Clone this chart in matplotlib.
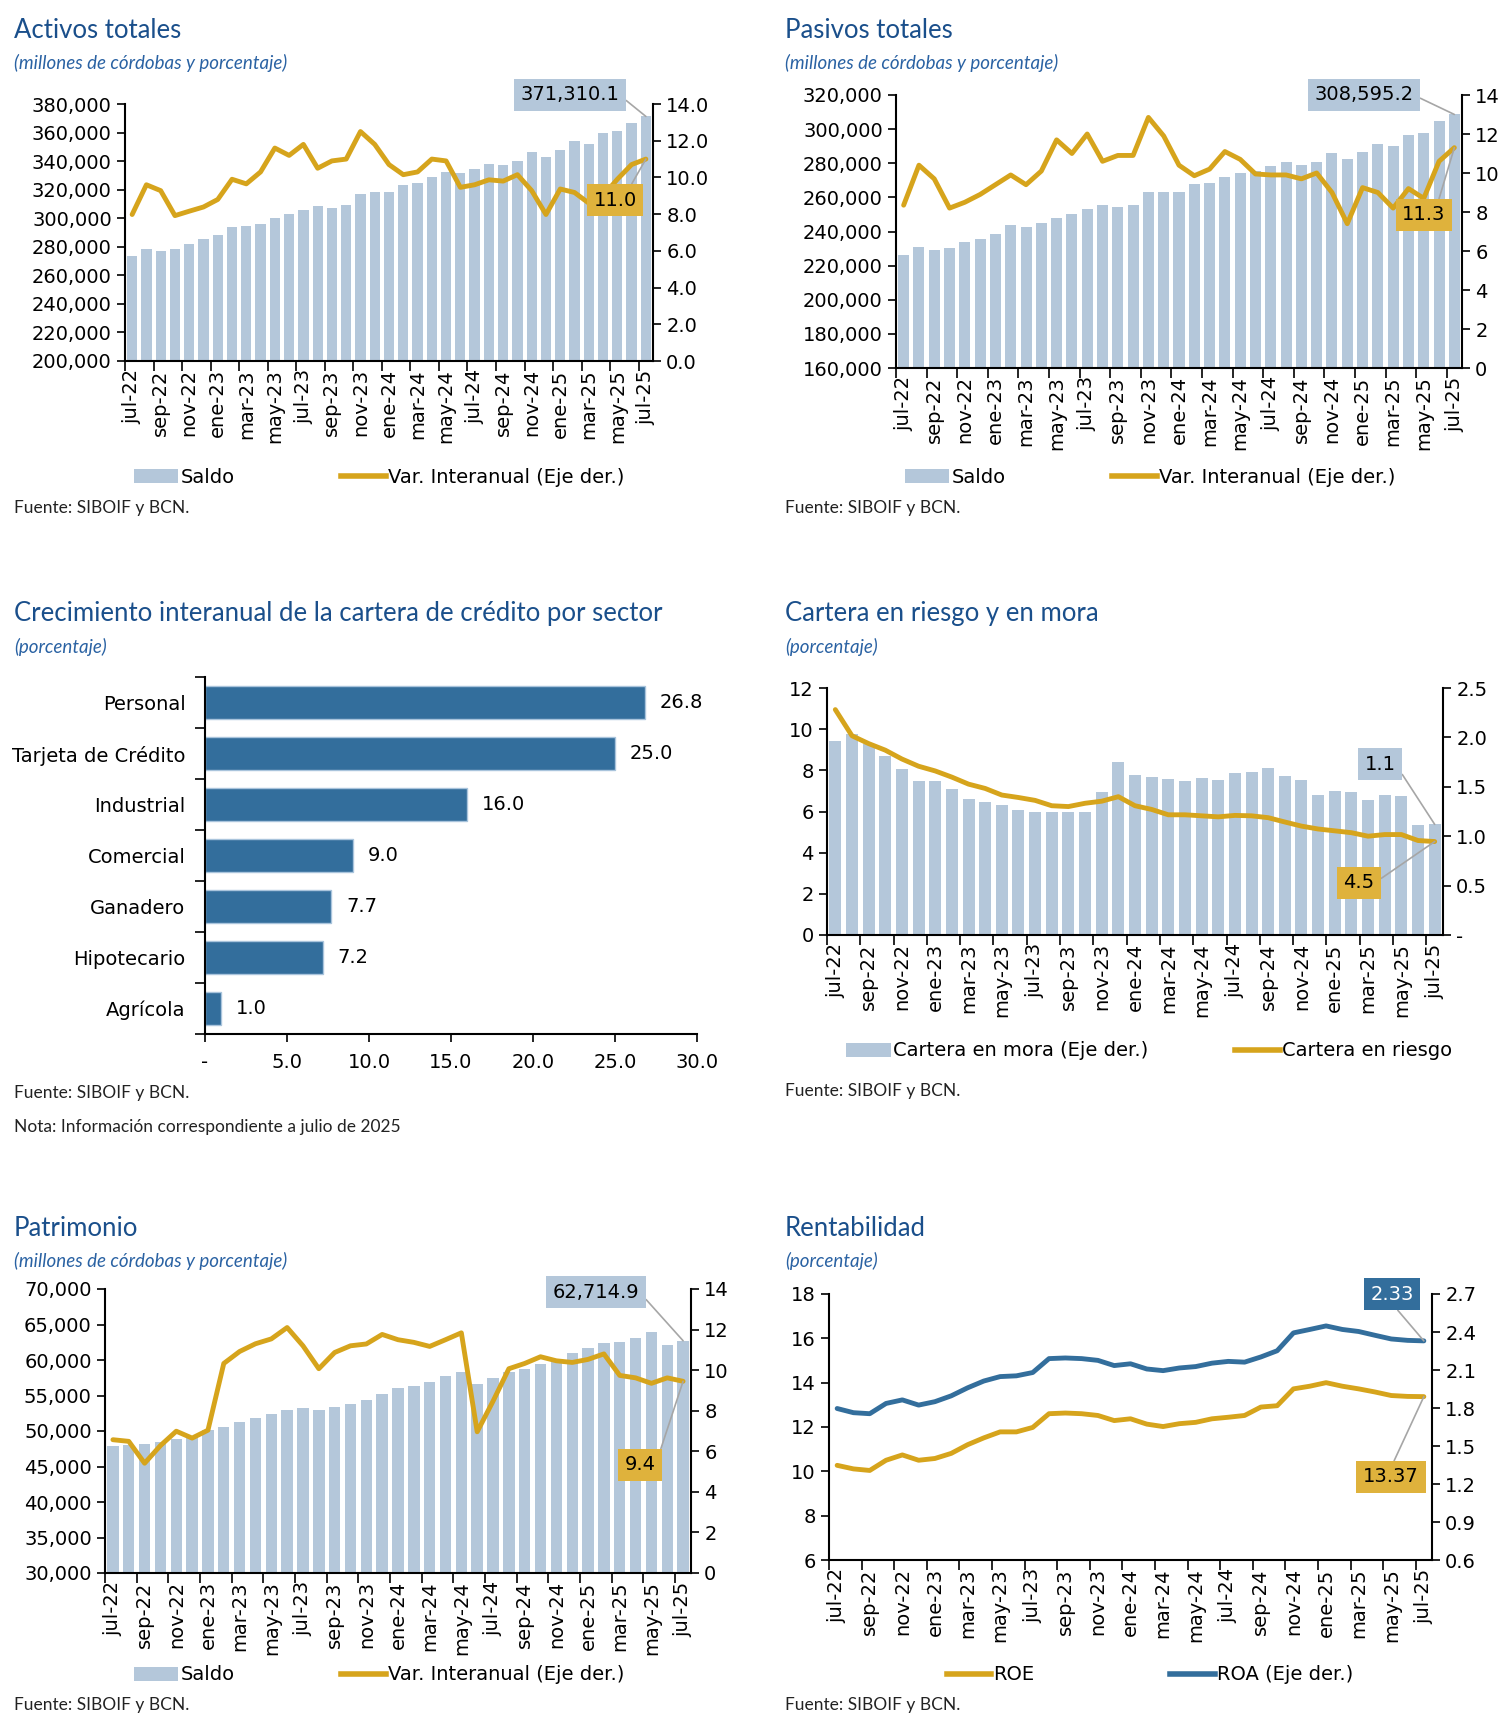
import numpy as np
import matplotlib
matplotlib.use("Agg")
import matplotlib.pyplot as plt
from matplotlib.patches import Rectangle
from matplotlib.lines import Line2D
from matplotlib.ticker import FuncFormatter

W, H = 1511, 1727

# Etiquetas de meses (jul-22 a jul-25)
meses = ["ene", "feb", "mar", "abr", "may", "jun", "jul", "ago", "sep", "oct", "nov", "dic"]
periodos = [f"{meses[(6 + i) % 12]}-{22 + (6 + i) // 12}" for i in range(37)]

# Activos totales
activos_saldo = [273400, 278700, 277200, 278400, 281800, 285100, 288200, 293700, 294400, 296300,
                 299900, 303200, 305600, 308500, 307300, 309200, 317000, 318200, 318200, 323500,
                 324700, 329200, 332300, 331600, 334700, 338000, 337300, 339900, 346100, 343000,
                 348000, 353800, 351800, 359500, 361300, 366400, 371310.1]
activos_var = [7.98, 9.6, 9.28, 7.92, 8.16, 8.39, 8.8, 9.9, 9.65, 10.3,
               11.6, 11.2, 11.8, 10.5, 10.9, 11.0, 12.5, 11.8, 10.7, 10.15,
               10.3, 11.0, 10.9, 9.46, 9.6, 9.87, 9.8, 10.15, 9.28, 7.98,
               9.37, 9.18, 8.6, 9.0, 9.9, 10.7, 11.0]

# Pasivos totales
pasivos_saldo = [226400, 230800, 229000, 230200, 233800, 235500, 238500, 243700, 242900, 245100,
                 247700, 250500, 253000, 255800, 254200, 255800, 263000, 263000, 263000, 268000,
                 268500, 272100, 274100, 275700, 278100, 280500, 278900, 280900, 286200, 282700,
                 286600, 291400, 290000, 296800, 298000, 304700, 308595.2]
pasivos_var = [8.35, 10.4, 9.7, 8.2, 8.5, 8.9, 9.4, 9.9, 9.4, 10.1,
               11.7, 11.0, 12.0, 10.6, 10.9, 10.9, 12.85, 11.9, 10.4, 9.86,
               10.2, 11.1, 10.7, 9.95, 9.9, 9.9, 9.7, 10.0, 9.0, 7.4,
               9.25, 9.0, 8.2, 9.2, 8.7, 10.6, 11.3]

# Crecimiento interanual de la cartera por sector
sectores = ["Personal", "Tarjeta de Crédito", "Industrial", "Comercial", "Ganadero", "Hipotecario", "Agrícola"]
crec_sector = [26.8, 25.0, 16.0, 9.0, 7.7, 7.2, 1.0]

# Cartera en riesgo y en mora
cartera_mora = [1.96, 2.03, 1.93, 1.81, 1.68, 1.56, 1.56, 1.48, 1.38, 1.35,
                1.32, 1.27, 1.24, 1.25, 1.25, 1.25, 1.45, 1.75, 1.62, 1.60,
                1.58, 1.56, 1.59, 1.57, 1.64, 1.65, 1.69, 1.61, 1.57, 1.42,
                1.46, 1.45, 1.37, 1.42, 1.41, 1.11, 1.12]
cartera_riesgo = [10.95, 9.68, 9.3, 8.98, 8.55, 8.2, 7.97, 7.67, 7.33, 7.12,
                  6.8, 6.68, 6.54, 6.28, 6.24, 6.4, 6.5, 6.72, 6.28, 6.1,
                  5.84, 5.84, 5.79, 5.74, 5.81, 5.79, 5.7, 5.49, 5.29, 5.15,
                  5.06, 4.97, 4.8, 4.88, 4.88, 4.59, 4.54]

# Patrimonio
patrim_saldo = [47850, 48050, 48140, 48430, 48910, 49150, 50210, 50600, 51320, 51800,
                52380, 52950, 53200, 52950, 53340, 53870, 54300, 55270, 55990, 56370,
                56950, 57720, 58350, 56610, 57480, 58300, 58780, 59500, 60080, 61040,
                61760, 62390, 62530, 63160, 63930, 62050, 62714.9]
patrim_var = [6.57, 6.49, 5.41, 6.28, 6.99, 6.65, 7.04, 10.33, 10.92, 11.3,
              11.54, 12.1, 11.2, 10.07, 10.87, 11.2, 11.29, 11.76, 11.5, 11.37,
              11.17, 11.5, 11.84, 6.96, 8.47, 10.07, 10.33, 10.66, 10.46, 10.38,
              10.53, 10.8, 9.74, 9.62, 9.35, 9.62, 9.45]

# Rentabilidad
roe = [10.27, 10.11, 10.04, 10.5, 10.74, 10.5, 10.58, 10.81, 11.2, 11.51,
       11.78, 11.78, 11.98, 12.6, 12.63, 12.6, 12.52, 12.29, 12.37, 12.13,
       12.02, 12.15, 12.21, 12.37, 12.44, 12.52, 12.9, 12.96, 13.72, 13.84,
       14.0, 13.84, 13.72, 13.58, 13.42, 13.38, 13.37]
roa = [1.796, 1.763, 1.755, 1.836, 1.864, 1.823, 1.85, 1.896, 1.959, 2.013,
       2.048, 2.054, 2.08, 2.19, 2.195, 2.19, 2.176, 2.135, 2.149, 2.108,
       2.095, 2.116, 2.127, 2.154, 2.168, 2.162, 2.203, 2.252, 2.393, 2.42,
       2.448, 2.42, 2.404, 2.374, 2.345, 2.334, 2.33]

# Colores
C_BAR = "#b4c7da"
C_GOLD = "#d6a41c"
C_GOLDBOX = "#dfb23c"
C_BLUE = "#336e9c"
C_TITLE = "#1a4f8b"
C_SUB = "#2a62a3"

TICK_FS = 14
TITLE_FONT = ["Lato", "DejaVu Sans"]
plt.rcParams["font.family"] = ["DejaVu Sans"]

fig = plt.figure(figsize=(W / 100, H / 100), dpi=100)
fig.patch.set_facecolor("white")


def rect(x0, y0, x1, y1):
    return [x0 / W, 1 - y1 / H, (x1 - x0) / W, (y1 - y0) / H]


def ftext(x, y, s, **kw):
    fig.text(x / W, 1 - y / H, s, **kw)


def headers(x, y_title, y_sub, title, sub):
    ftext(x, y_title, title, fontsize=18.5, color=C_TITLE, family=TITLE_FONT, va="center")
    ftext(x, y_sub, sub, fontsize=13.5, color=C_SUB, family=TITLE_FONT, style="italic",
          weight="normal", va="center")


def fuente(x, y, s="Fuente: SIBOIF y BCN."):
    ftext(x, y, s, fontsize=12.5, color="#222222", family=TITLE_FONT, va="center")


def style_axes(ax, right=None):
    for side in ["top", "right"]:
        ax.spines[side].set_visible(False)
    ax.spines["left"].set_linewidth(1.5)
    ax.spines["bottom"].set_linewidth(1.5)
    ax.tick_params(axis="y", labelsize=TICK_FS, length=6, width=1.2, direction="out")
    if right is not None:
        for side in ["top", "left", "bottom"]:
            right.spines[side].set_visible(False)
        right.spines["right"].set_linewidth(1.5)
        right.tick_params(axis="y", labelsize=TICK_FS, length=6, width=1.2, direction="out")


def time_axis(ax):
    n = len(periodos)
    ax.set_xlim(-0.5, n - 0.5)
    ax.set_xticks(np.arange(0, n, 2))
    ax.set_xticklabels(periodos[::2], rotation=90, fontsize=TICK_FS)
    ax.set_xticks(np.arange(-0.5, n, 2), minor=True)
    ax.tick_params(axis="x", which="major", length=0, pad=6)
    ax.tick_params(axis="x", which="minor", length=7, width=1.2, direction="out")


def box_label(ax, s, xy, cx, cy, fc, tc="black", relpos=(1, 0.5)):
    ax.annotate(s, xy=xy, xycoords="data", xytext=(cx, H - cy), textcoords="figure pixels",
                ha="center", va="center", fontsize=TICK_FS, color=tc,
                bbox=dict(boxstyle="square,pad=0.35", fc=fc, ec="none"),
                arrowprops=dict(arrowstyle="-", color="#a6a6a6", lw=1.2, shrinkA=0, shrinkB=0,
                                relpos=relpos),
                annotation_clip=False, zorder=10)


def legend(cx, cy, handles, labels, spacing=5.5):
    fig.legend(handles, labels, loc="center", bbox_to_anchor=(cx / W, 1 - cy / H), ncol=len(handles),
               frameon=False, fontsize=TICK_FS, columnspacing=spacing, handlelength=2.3,
               handletextpad=0.1, borderaxespad=0)


thousands = FuncFormatter(lambda v, p: f"{v:,.0f}")
one_dec = FuncFormatter(lambda v, p: f"{v:.1f}")
one_dec_dash = FuncFormatter(lambda v, p: "-" if abs(v) < 1e-9 else f"{v:.1f}")
integer = FuncFormatter(lambda v, p: f"{v:.0f}")

x = np.arange(len(periodos))
bar_handle = Rectangle((0, 0), 1, 1, fc=C_BAR, ec="none")
gold_handle = Line2D([], [], color=C_GOLD, lw=4)
blue_handle = Line2D([], [], color=C_BLUE, lw=4)


def saldo_panel(pos, saldo, var, ylim, ystep, rlim, rstep, rfmt, box1, box2):
    ax = fig.add_axes(rect(*pos))
    ax2 = ax.twinx()
    ax.bar(x, saldo, width=0.72, color=C_BAR, zorder=1)
    ax.set_ylim(*ylim)
    ax.set_yticks(np.arange(ylim[0], ylim[1] + 1, ystep))
    ax.yaxis.set_major_formatter(thousands)
    ax2.plot(x, var, color=C_GOLD, lw=3.5, solid_joinstyle="round", solid_capstyle="round")
    ax2.set_ylim(*rlim)
    ax2.set_yticks(np.arange(rlim[0], rlim[1] + 0.01, rstep))
    ax2.yaxis.set_major_formatter(rfmt)
    style_axes(ax, ax2)
    time_axis(ax)
    box_label(ax, f"{saldo[-1]:,.1f}", (x[-1], saldo[-1]), box1[0], box1[1], C_BAR)
    box_label(ax2, f"{var[-1]:.1f}", (x[-1], var[-1]), box2[0], box2[1], C_GOLDBOX, relpos=box2[2])
    return ax, ax2


# Panel 1: Activos totales
headers(14, 30, 63, "Activos totales", "(millones de córdobas y porcentaje)")
saldo_panel((125, 104, 653, 361), activos_saldo, activos_var, (200000, 380000), 20000,
            (0, 14), 2, one_dec, (570, 95), (615, 200, (0.8, 1)))
legend(379, 477, [bar_handle, gold_handle], ["Saldo", "Var. Interanual (Eje der.)"])
fuente(14, 508)

# Panel 2: Pasivos totales
headers(785, 30, 63, "Pasivos totales", "(millones de córdobas y porcentaje)")
saldo_panel((896, 95, 1462, 368), pasivos_saldo, pasivos_var, (160000, 320000), 20000,
            (0, 14), 2, integer, (1364, 95), (1424, 215, (0.8, 1)))
legend(1150, 477, [bar_handle, gold_handle], ["Saldo", "Var. Interanual (Eje der.)"])
fuente(785, 508)

# Panel 3: Crecimiento por sector
headers(14, 614, 647, "Crecimiento interanual de la cartera de crédito por sector", "(porcentaje)")
ax3 = fig.add_axes(rect(205, 677, 697, 1034))
yy = np.arange(len(sectores))
ax3.barh(yy, crec_sector, height=0.64, color=C_BLUE, edgecolor="#a9c4dc", lw=1)
for yi, v in zip(yy, crec_sector):
    ax3.text(v + 0.9, yi, f"{v:.1f}", va="center", ha="left", fontsize=TICK_FS)
ax3.set_ylim(len(sectores) - 0.5, -0.5)
ax3.set_xlim(0, 30)
ax3.set_xticks(np.arange(0, 31, 5))
ax3.xaxis.set_major_formatter(one_dec_dash)
ax3.set_yticks(yy)
ax3.set_yticklabels(sectores, fontsize=TICK_FS)
ax3.set_yticks(np.arange(-0.5, len(sectores), 1), minor=True)
style_axes(ax3)
ax3.tick_params(axis="y", which="major", length=0, pad=14)
ax3.tick_params(axis="y", which="minor", length=7, width=1.2)
ax3.tick_params(axis="x", labelsize=TICK_FS, length=6, width=1.2, pad=8)
fuente(14, 1093)
fuente(14, 1127, "Nota: Información correspondiente a julio de 2025")

# Panel 4: Cartera en riesgo y en mora
headers(785, 614, 647, "Cartera en riesgo y en mora", "(porcentaje)")
ax4 = fig.add_axes(rect(827, 688, 1443, 935))
ax4b = ax4.twinx()
ax4b.bar(x, cartera_mora, width=0.72, color=C_BAR)
ax4b.set_ylim(0, 2.5)
ax4b.set_yticks(np.arange(0, 2.51, 0.5))
ax4b.yaxis.set_major_formatter(one_dec_dash)
ax4.plot(x, cartera_riesgo, color=C_GOLD, lw=3.5, solid_joinstyle="round", solid_capstyle="round")
ax4.set_ylim(0, 12)
ax4.set_yticks(np.arange(0, 13, 2))
ax4.yaxis.set_major_formatter(integer)
ax4.set_zorder(ax4b.get_zorder() + 1)
ax4.patch.set_visible(False)
style_axes(ax4, ax4b)
time_axis(ax4)
box_label(ax4b, f"{cartera_mora[-1]:.1f}", (x[-1], cartera_mora[-1]), 1380, 764, C_BAR)
box_label(ax4, f"{cartera_riesgo[-1]:.1f}", (x[-1], cartera_riesgo[-1]), 1359, 883, C_GOLDBOX)
legend(1149, 1051, [bar_handle, gold_handle], ["Cartera en mora (Eje der.)", "Cartera en riesgo"],
       spacing=4.5)
fuente(785, 1091)

# Panel 5: Patrimonio
headers(14, 1228, 1261, "Patrimonio", "(millones de córdobas y porcentaje)")
saldo_panel((105, 1289, 691, 1573), patrim_saldo, patrim_var, (30000, 70000), 5000,
            (0, 14), 2, integer, (596, 1292), (640, 1465, (1, 0.5)))
legend(379, 1675, [bar_handle, gold_handle], ["Saldo", "Var. Interanual (Eje der.)"])
fuente(14, 1705)

# Panel 6: Rentabilidad
headers(785, 1228, 1261, "Rentabilidad", "(porcentaje)")
ax6 = fig.add_axes(rect(829, 1294, 1432, 1560))
ax6b = ax6.twinx()
ax6.plot(x, roe, color=C_GOLD, lw=3.5, solid_joinstyle="round", solid_capstyle="round")
ax6b.plot(x, roa, color=C_BLUE, lw=3.5, solid_joinstyle="round", solid_capstyle="round")
ax6.set_ylim(6, 18)
ax6.set_yticks(np.arange(6, 19, 2))
ax6.yaxis.set_major_formatter(integer)
ax6b.set_ylim(0.6, 2.7)
ax6b.set_yticks(np.arange(0.6, 2.71, 0.3))
ax6b.yaxis.set_major_formatter(one_dec)
style_axes(ax6, ax6b)
time_axis(ax6)
box_label(ax6b, f"{roa[-1]:.2f}", (x[-1], roa[-1]), 1392, 1294, C_BLUE, tc="white", relpos=(0.5, 0))
box_label(ax6, f"{roe[-1]:.2f}", (x[-1], roe[-1]), 1391, 1477, C_GOLDBOX, relpos=(0.5, 1))
legend(1150, 1675, [gold_handle, blue_handle], ["ROE", "ROA (Eje der.)"], spacing=7)
fuente(785, 1705)

fig.savefig("out.png", dpi=100)
